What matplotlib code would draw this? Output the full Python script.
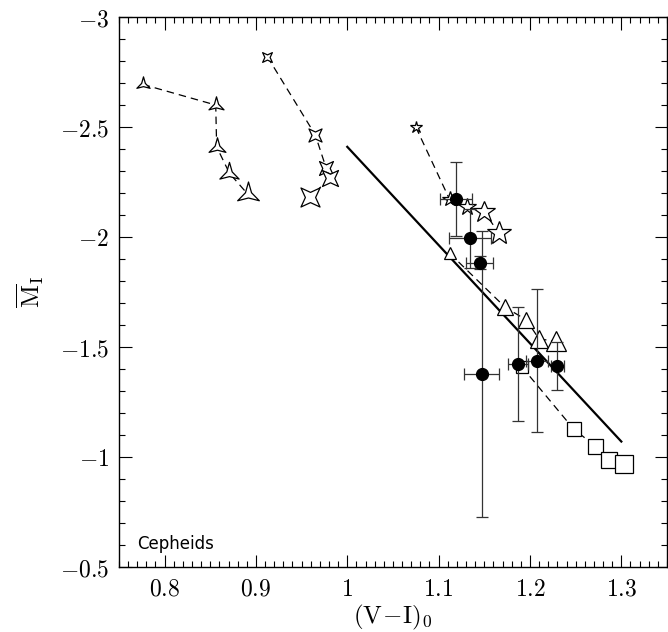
import numpy as np
import matplotlib
matplotlib.use('Agg')
import matplotlib.pyplot as plt
from matplotlib.path import Path
from matplotlib.ticker import MultipleLocator, FuncFormatter

plt.rcParams['mathtext.fontset'] = 'cm'

# model tracks: (V-I)_0 and mean M_I
tri3_x = [0.776, 0.856, 0.857, 0.871, 0.891]
tri3_m = [-2.694, -2.60, -2.41, -2.29, -2.195]
star4_x = [0.9125, 0.965, 0.977, 0.981, 0.959]
star4_m = [-2.82, -2.464, -2.312, -2.267, -2.18]
star5_x = [1.075, 1.112, 1.131, 1.150, 1.166]
star5_m = [-2.50, -2.171, -2.135, -2.114, -2.017]
tri_x = [1.112, 1.173, 1.196, 1.210, 1.228]
tri_m = [-1.926, -1.68, -1.623, -1.536, -1.527]
sq_x = [1.191, 1.248, 1.271, 1.287, 1.303]
sq_m = [-1.41, -1.126, -1.051, -0.986, -0.967]

# observed cepheids
obs_x = [1.119, 1.134, 1.145, 1.147, 1.187, 1.208, 1.230]
obs_m = [-2.173, -1.994, -1.883, -1.376, -1.423, -1.438, -1.414]
obs_xerr = [0.017, 0.023, 0.015, 0.019, 0.011, 0.012, 0.007]
obs_merr = [0.17, 0.135, 0.03, 0.65, 0.26, 0.325, 0.11]

# fitted relation
fit_x = [1.0, 1.3]
fit_m = [-2.41, -1.07]


def star_marker(n, inner, rot=90):
    verts = []
    for k in range(n):
        a = np.radians(rot + 360.0 * k / n)
        b = np.radians(rot + 180.0 / n + 360.0 * k / n)
        verts.append((np.cos(a), np.sin(a)))
        verts.append((inner * np.cos(b), inner * np.sin(b)))
    verts.append(verts[0])
    codes = [Path.MOVETO] + [Path.LINETO] * (len(verts) - 2) + [Path.CLOSEPOLY]
    return Path(verts, codes)


tri3_marker = star_marker(3, 0.28)
star4_marker = star_marker(4, 0.38, rot=45)

# marker sizes (pt) grow along each track
tri3_ms = [11, 12.5, 14, 16, 18]
star4_ms = [7, 9.4, 10, 11.5, 13.7]
star5_ms = [9, 11.5, 13, 16.5, 18]
tri_ms = [8, 11, 12, 13, 15]
sq_ms = [8, 9.4, 10.8, 11.5, 13]

fig = plt.figure(figsize=(6.68, 6.32), dpi=100)
ax = fig.add_axes([0.178, 0.103, 0.8205, 0.870])

tracks = [
    (tri3_x, tri3_m, tri3_marker, tri3_ms),
    (star4_x, star4_m, star4_marker, star4_ms),
    (star5_x, star5_m, '*', star5_ms),
    (tri_x, tri_m, '^', tri_ms),
    (sq_x, sq_m, 's', sq_ms),
]
for xs, ms_, mk, sizes in tracks:
    ax.plot(xs, ms_, color='k', lw=0.9, dashes=(6, 4), zorder=2)
    for x, m, s in zip(xs, ms_, sizes):
        ax.plot(x, m, marker=mk, ms=s, mfc='white', mec='k', mew=0.9,
                ls='none', zorder=3)

ax.plot(fit_x, fit_m, color='k', lw=1.6, zorder=2)

ax.errorbar(obs_x, obs_m, xerr=obs_xerr, yerr=obs_merr, fmt='o', ms=8.5,
            color='k', ecolor='#333333', elinewidth=0.9, capsize=4.5,
            capthick=0.9, zorder=4)

ax.set_xlim(0.75, 1.35)
ax.set_ylim(-0.5, -3)
ax.xaxis.set_major_locator(MultipleLocator(0.1))
ax.xaxis.set_minor_locator(MultipleLocator(0.01))
ax.yaxis.set_major_locator(MultipleLocator(0.5))
ax.yaxis.set_minor_locator(MultipleLocator(0.1))
fmt = FuncFormatter(lambda v, p: '$%s$' % ('%g' % round(v, 3)))
ax.xaxis.set_major_formatter(fmt)
ax.yaxis.set_major_formatter(fmt)
ax.tick_params(which='both', direction='in', top=True, right=True,
               labelsize=17, width=0.8)
ax.tick_params(which='major', length=9, pad=7)
ax.tick_params(which='minor', length=4.5)
for sp in ax.spines.values():
    sp.set_linewidth(1.0)

ax.set_xlabel(r'$\rm (V\!-\!I)_0$', fontsize=18, labelpad=2)
ax.set_ylabel(r'$\overline{\rm M}_{\rm I}$', fontsize=18, labelpad=10)

ax.text(0.033, 0.032, 'Cepheids', transform=ax.transAxes, fontsize=12,
        family='DejaVu Sans')

fig.savefig('out.png', dpi=100)
